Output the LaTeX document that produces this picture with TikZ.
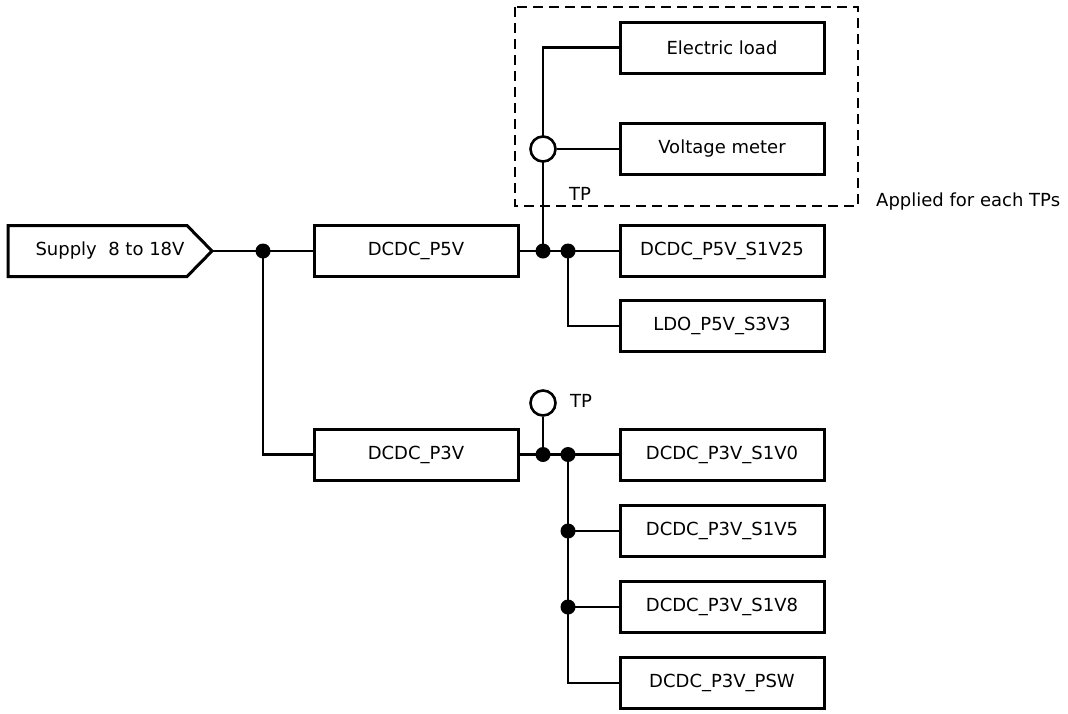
\documentclass[tikz,border=0pt]{standalone}
\usepackage{fontspec}
\setmainfont{DejaVu Sans}
\begin{document}
\begin{tikzpicture}[x=1pt,y=-1pt,
  box/.style={draw=black,line width=3pt,minimum width=204pt,minimum height=51pt,inner sep=0pt,font=\fontsize{18}{20}\selectfont},
  wire/.style={draw=black,line width=2.6pt},
  dot/.style={circle,fill=black,draw=none,minimum size=15pt,inner sep=0pt},
  tpc/.style={circle,draw=black,fill=white,line width=2.6pt,minimum size=25pt,inner sep=0pt},
  lbl/.style={inner sep=0pt,font=\fontsize{18}{20}\selectfont},
  dashbox/.style={draw=black,line width=2.6pt,dash pattern=on 10pt off 6pt}
]
\useasboundingbox (0,0) rectangle (1068,713);

% dashed region
\draw[dashbox] (515,7) rectangle (858,206);

% supply pentagon
\draw[line width=3pt,line join=miter] (8,225.5) -- (187,225.5) -- (212,251) -- (187,276.5) -- (8,276.5) -- cycle;
\coordinate (stip) at (212,251);
\node[lbl] (supply) at (110,251) {Supply\ \ 8 to 18V};

% boxes
\node[box] (p5v) at (416,251) {DCDC\_P5V};
\node[box] (p3v) at (416,454.5) {DCDC\_P3V};
\node[box] (el) at (722,47.5) {Electric load};
\node[box] (vm) at (722,149) {Voltage meter};
\node[box] (s1v25) at (722,251) {DCDC\_P5V\_S1V25};
\node[box] (ldo) at (722,326) {LDO\_P5V\_S3V3};
\node[box] (s1v0) at (722,454.5) {DCDC\_P3V\_S1V0};
\node[box] (s1v5) at (722,531) {DCDC\_P3V\_S1V5};
\node[box] (s1v8) at (722,607) {DCDC\_P3V\_S1V8};
\node[box] (psw) at (722,683) {DCDC\_P3V\_PSW};

% junction coordinates
\coordinate (j1) at (263,251);
\coordinate (j2) at (543,251);
\coordinate (j3) at (568,251);
\coordinate (j4) at (543,454.5);
\coordinate (j5) at (568,454.5);
\coordinate (j6) at (568,531);
\coordinate (j7) at (568,607);
\coordinate (tpt) at (543,47.5);

% wires
\draw[wire] (stip) -- (p5v.west);
\draw[wire] (j1) |- (p3v.west);
\draw[wire] (p5v.east) -- (s1v25.west);
\draw[wire] (j3) |- (ldo.west);
\draw[wire] (j2) -- (tpt) -- (el.west);
\draw[wire] (p3v.east) -- (s1v0.west);
\draw[wire] (j5) |- (psw.west);
\draw[wire] (j6) -- (s1v5.west);
\draw[wire] (j7) -- (s1v8.west);

% test points
\node[tpc] (tp1) at (543,149) {};
\draw[wire] (tp1.east) -- (vm.west);
\node[tpc] (tp2) at (543,403) {};
\draw[wire] (tp2.south) -- (j4);

% dots
\foreach \j in {j1,j2,j3,j4,j5,j6,j7} \node[dot] at (\j) {};

% labels
\node[lbl,anchor=base west] (tpl1) at (569,200) {TP};
\node[lbl,anchor=base west] (tpl2) at (570,407) {TP};
\node[lbl,anchor=base west] (applied) at (876,206) {Applied for each TPs};
\end{tikzpicture}
\end{document}
